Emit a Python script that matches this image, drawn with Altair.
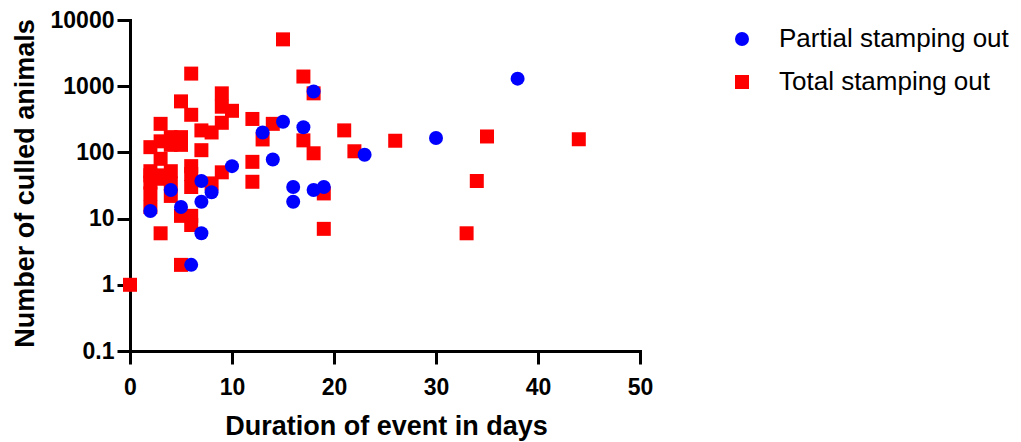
import altair as alt
import pandas as pd

partial_days = [2, 4, 5, 6, 7, 7, 7, 8, 10, 13, 14, 15, 16, 16, 17, 18, 18, 19, 23, 30, 38]
partial_culled = [13, 27, 15, 2, 37, 18, 6, 25, 62, 200, 78, 290, 30, 18, 240, 830, 27, 30, 92, 165, 1300]

total_days = [0,
              2, 2, 2, 2, 2, 2,
              3, 3, 3, 3, 3, 3,
              4, 4, 4, 4, 4,
              5, 5, 5, 5, 5,
              6, 6, 6, 6, 6, 6, 6,
              7, 7,
              8, 8,
              9, 9, 9, 9,
              10,
              12, 12, 12,
              13, 14, 15,
              17, 17,
              18, 18,
              19, 19,
              21, 22, 26, 33, 34, 35, 44]
total_culled = [1,
                120, 52, 45, 35, 24, 15,
                270, 147, 80, 45, 40, 6,
                170, 130, 52, 34, 22,
                590, 170, 130, 11, 2,
                1550, 370, 62, 47, 30, 11, 8,
                215, 108,
                200, 34,
                780, 490, 280, 50,
                425,
                320, 72, 36,
                157, 270, 5100,
                1400, 152,
                780, 97,
                24, 7,
                215, 104, 150, 6, 37, 174, 158]

groups = ["Partial stamping out", "Total stamping out"]

df = pd.concat([
    pd.DataFrame({"days": total_days, "culled": total_culled, "group": groups[1]}),
    pd.DataFrame({"days": partial_days, "culled": partial_culled, "group": groups[0]}),
], ignore_index=True)

FONT = "Liberation Sans"

legend = alt.Legend(title=None, orient="none", legendX=599, legendY=6,
                    symbolSize=196, labelFontSize=26, labelFont=FONT, labelLimit=0,
                    labelColor="black", labelOffset=24, rowPadding=17,
                    symbolStrokeWidth=0, padding=0)

chart = alt.Chart(df).mark_point(filled=True, size=196, opacity=1, strokeWidth=0).encode(
    x=alt.X("days:Q",
            scale=alt.Scale(domain=[0, 50], nice=False, zero=False),
            axis=alt.Axis(title="Duration of event in days", values=[0, 10, 20, 30, 40, 50],
                          labelPadding=12, titleX=256, titleY=83, labelFlush=False,
                          titleBaseline="alphabetic", titleAlign="center")),
    y=alt.Y("culled:Q",
            scale=alt.Scale(type="log", domain=[0.1, 10000], nice=False),
            axis=alt.Axis(title="Number of culled animals", values=[0.1, 1, 10, 100, 1000, 10000],
                          format="~g", labelPadding=3, titleX=-97, titleY=163, labelFlush=False,
                          titleBaseline="alphabetic", titleAlign="center", titleAngle=270)),
    color=alt.Color("group:N", scale=alt.Scale(domain=groups, range=["#0000FF", "#FF0000"]),
                    legend=legend),
    shape=alt.Shape("group:N", scale=alt.Scale(domain=groups, range=["circle", "square"]),
                    legend=legend),
).properties(
    width=510, height=331,
    autosize=alt.AutoSizeParams(type="none"),
    padding={"left": 122, "top": 12, "right": 373, "bottom": 100},
).configure_view(stroke=None).configure_axis(
    domainColor="black", domainWidth=3, tickColor="black", tickWidth=3, tickSize=13,
    labelFont=FONT, labelFontSize=23, labelFontWeight="bold", labelColor="black",
    titleFont=FONT, titleFontSize=27, titleFontWeight="bold", titleColor="black",
    grid=False, domainCap="square",
)

chart.save("out.html", embed_options={"renderer": "svg", "actions": False})
